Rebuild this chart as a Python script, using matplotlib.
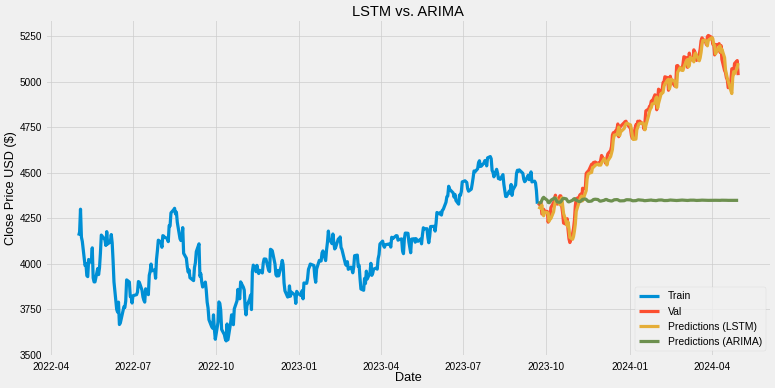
import matplotlib
matplotlib.use("Agg")
import matplotlib.pyplot as plt
import matplotlib.dates as mdates
import pandas as pd
import numpy as np

# ---------------- data ----------------
train_start = "2022-05-02"
train_end = "2023-09-21"
val_start = "2023-09-22"
val_end = "2024-04-30"
holidays = ["2022-05-30", "2022-06-20", "2022-07-04", "2022-09-05", "2022-11-24", "2022-12-26",
            "2023-01-02", "2023-01-16", "2023-02-20", "2023-04-07", "2023-05-29", "2023-06-19",
            "2023-07-04", "2023-09-04", "2023-11-23", "2023-12-25",
            "2024-01-01", "2024-01-15", "2024-02-19", "2024-03-29"]

train_close = [
    # 2022-05
    4155, 4175, 4300, 4147, 4123, 3991, 4001, 3935, 3930, 4024, 4008, 4088, 3923, 3901, 3901,
    3974, 3941, 3979, 4058, 4158, 4132,
    # 2022-06
    4101, 4177, 4109, 4121, 4161, 4116, 4018, 3901, 3750, 3735, 3790, 3667, 3675, 3765, 3760,
    3796, 3912, 3900, 3821, 3819, 3785,
    # 2022-07
    3825, 3831, 3845, 3903, 3899, 3855, 3819, 3801, 3790, 3863, 3831, 3937, 3959, 3999, 3962,
    3967, 3921, 4024, 4072, 4130,
    # 2022-08
    4119, 4091, 4155, 4152, 4145, 4140, 4122, 4210, 4208, 4280, 4297, 4305, 4274, 4284, 4228,
    4138, 4128, 4141, 4199, 4058, 4031, 3986, 3955,
    # 2022-09
    3967, 3924, 3908, 3980, 4006, 4067, 4110, 3932, 3946, 3901, 3873, 3900, 3856, 3790, 3758,
    3693, 3655, 3647, 3720, 3640, 3586,
    # 2022-10
    3679, 3791, 3783, 3745, 3640, 3612, 3589, 3577, 3670, 3583, 3678, 3720, 3696, 3666, 3753,
    3797, 3860, 3831, 3808, 3901, 3872,
    # 2022-11
    3856, 3760, 3720, 3771, 3807, 3828, 3749, 3957, 3993, 3957, 3992, 3959, 3947, 3965, 3950,
    4004, 4027, 4026, 3964, 3958, 4080,
    # 2022-12
    4077, 4072, 3999, 3941, 3933, 3964, 3934, 3991, 4019, 3995, 3896, 3852, 3818, 3821, 3879,
    3822, 3845, 3829, 3783, 3849, 3840,
    # 2023-01
    3825, 3853, 3808, 3895, 3893, 3919, 3970, 3983, 3999, 3991, 3929, 3899, 3972, 4019, 4017,
    4016, 4060, 4071, 4018, 4077,
    # 2023-02
    4119, 4180, 4136, 4111, 4164, 4118, 4082, 4090, 4137, 4136, 4148, 4090, 4079, 3997, 3991,
    4012, 3970, 3982, 3970,
    # 2023-03
    3951, 3981, 4045, 4048, 3986, 3992, 3919, 3862, 3855, 3920, 3892, 3960, 3917, 3951, 4003,
    3937, 3948, 3971, 3977, 3971, 4028, 4051, 4109,
    # 2023-04
    4125, 4100, 4091, 4105, 4109, 4108, 4092, 4146, 4138, 4151, 4155, 4154, 4130, 4133, 4137,
    4072, 4056, 4136, 4169,
    # 2023-05
    4168, 4120, 4091, 4061, 4136, 4138, 4119, 4138, 4130, 4124, 4136, 4110, 4159, 4198, 4192,
    4193, 4146, 4116, 4151, 4205, 4206, 4180,
    # 2023-06
    4221, 4282, 4274, 4283, 4268, 4294, 4299, 4338, 4369, 4373, 4426, 4410, 4389, 4366, 4381,
    4348, 4328, 4378, 4376, 4397, 4450,
    # 2023-07
    4456, 4447, 4412, 4399, 4410, 4439, 4472, 4510, 4505, 4522, 4555, 4566, 4535, 4536, 4554,
    4567, 4566, 4538, 4582, 4589,
    # 2023-08
    4577, 4513, 4502, 4478, 4519, 4499, 4468, 4469, 4464, 4490, 4437, 4404, 4370, 4370, 4400,
    4388, 4436, 4376, 4406, 4433, 4497, 4514, 4508,
    # 2023-09
    4516, 4497, 4465, 4451, 4457, 4487, 4462, 4468, 4505, 4450, 4454, 4444, 4402, 4330,
]

val_close = [
    4320, 4337, 4274, 4274, 4300, 4288,
    4288, 4229, 4263, 4258, 4309, 4336, 4358, 4377, 4350, 4328, 4374, 4373, 4315, 4278, 4224,
    4217, 4248, 4186, 4137, 4117, 4167, 4194,
    4238, 4318, 4358, 4365, 4378, 4383, 4347, 4415, 4411, 4496, 4503, 4508, 4514, 4547, 4538,
    4556, 4559, 4550, 4554, 4551, 4568,
    4595, 4569, 4567, 4549, 4585, 4604, 4622, 4644, 4707, 4720, 4719, 4740, 4768, 4698, 4746,
    4755, 4775, 4781, 4783, 4770,
    4743, 4705, 4689, 4697, 4764, 4757, 4783, 4780, 4784, 4766, 4739, 4780, 4840, 4850, 4865,
    4869, 4894, 4891, 4928, 4925, 4846,
    4906, 4959, 4943, 4954, 4995, 4998, 5027, 5022, 4953, 5001, 5030, 5006, 4976, 4982, 5087,
    5089, 5069, 5078, 5070, 5096,
    5137, 5131, 5079, 5105, 5157, 5124, 5117, 5175, 5165, 5150, 5117, 5149, 5179, 5224, 5241,
    5234, 5218, 5203, 5248, 5254,
    5243, 5205, 5211, 5147, 5204, 5202, 5209, 5161, 5199, 5123, 5061, 5051, 5022, 5011, 4967,
    5010, 5071, 5072, 5048, 5100, 5116, 5036,
]

lstm_pred = [
    4312, 4305, 4323, 4280, 4264, 4284,
    4281, 4278, 4234, 4245, 4249, 4286, 4319, 4343, 4362, 4347, 4324, 4353, 4363, 4320, 4277,
    4228, 4209, 4230, 4192, 4145, 4135, 4150,
    4180, 4218, 4288, 4338, 4353, 4365, 4372, 4346, 4388, 4402, 4465, 4491, 4497, 4502, 4529,
    4530, 4541, 4548, 4542, 4543, 4542,
    4554, 4578, 4565, 4557, 4543, 4566, 4589, 4607, 4628, 4681, 4707, 4709, 4725, 4751, 4705,
    4724, 4743, 4760, 4769, 4772,
    4763, 4740, 4704, 4683, 4685, 4737, 4749, 4766, 4771, 4773, 4760, 4736, 4760, 4815, 4837,
    4851, 4858, 4878, 4882, 4909, 4916,
    4856, 4881, 4936, 4937, 4941, 4975, 4987, 5010, 5013, 4960, 4979, 5013, 5002, 4973, 4970,
    5051, 5078, 5064, 5066, 5062,
    5079, 5117, 5122, 5082, 5088, 5134, 5122, 5109, 5150, 5157, 5144, 5115, 5131, 5161, 5203,
    5227, 5226, 5212, 5197, 5227,
    5242, 5236, 5204, 5199, 5153, 5180, 5192, 5197, 5163, 5179, 5132, 5066, 5043, 5019, 5004,
    4950, 4935, 5020, 5055, 5044, 5077, 5102,
]

arima_pred = [
    4332.7, 4337.5, 4349.0, 4360.5, 4365.3, 4360.5, 4349.0, 4337.5,
    4335.7, 4339.6, 4349.0, 4358.4, 4362.3, 4358.4, 4349.0, 4339.6,
    4338.1, 4341.3, 4349.0, 4356.7, 4359.9, 4356.7, 4349.0, 4341.3,
    4340.1, 4342.7, 4349.0, 4355.3, 4357.9, 4355.3, 4349.0, 4342.7,
    4341.8, 4343.9, 4349.0, 4354.1, 4356.2, 4354.1, 4349.0, 4343.9,
    4343.1, 4344.8, 4349.0, 4353.2, 4354.9, 4353.2, 4349.0, 4344.8,
    4344.2, 4345.6, 4349.0, 4352.4, 4353.8, 4352.4, 4349.0, 4345.6,
    4345.1, 4346.2, 4349.0, 4351.8, 4352.9, 4351.8, 4349.0, 4346.2,
    4345.8, 4346.7, 4349.0, 4351.3, 4352.2, 4351.3, 4349.0, 4346.7,
    4346.4, 4347.2, 4349.0, 4350.8, 4351.6, 4350.8, 4349.0, 4347.2,
    4346.9, 4347.5, 4349.0, 4350.5, 4351.1, 4350.5, 4349.0, 4347.5,
    4347.3, 4347.8, 4349.0, 4350.2, 4350.7, 4350.2, 4349.0, 4347.8,
    4347.6, 4348.0, 4349.0, 4350.0, 4350.4, 4350.0, 4349.0, 4348.0,
    4347.8, 4348.2, 4349.0, 4349.8, 4350.2, 4349.8, 4349.0, 4348.2,
    4348.1, 4348.3, 4349.0, 4349.7, 4349.9, 4349.7, 4349.0, 4348.3,
    4348.2, 4348.4, 4349.0, 4349.6, 4349.8, 4349.6, 4349.0, 4348.4,
    4348.4, 4348.6, 4349.0, 4349.4, 4349.6, 4349.4, 4349.0, 4348.6,
    4348.5, 4348.6, 4349.0, 4349.4, 4349.5, 4349.4, 4349.0, 4348.6,
    4348.6, 4348.7, 4349.0, 4349.3, 4349.4, 4349.3, 4349.0, 4348.7,
]

legend_labels = ["Train", "Val", "Predictions (LSTM)", "Predictions (ARIMA)"]

# ---------------- dates ----------------
bday = pd.offsets.CustomBusinessDay(holidays=holidays)
train_dates = pd.date_range(train_start, train_end, freq=bday)
val_dates = pd.date_range(val_start, val_end, freq=bday)
assert len(train_dates) == len(train_close), (len(train_dates), len(train_close))
assert len(val_dates) == len(val_close) == len(lstm_pred) == len(arima_pred), (
    len(val_dates), len(val_close), len(lstm_pred), len(arima_pred))

# ---------------- plot ----------------
plt.style.use("fivethirtyeight")
plt.rcParams["font.family"] = ["Liberation Sans", "DejaVu Sans"]

DPI = 48
fig = plt.figure(figsize=(775 / DPI, 388 / DPI), dpi=DPI)
ax = fig.add_axes([0.059, 0.082, 0.936, 0.866])

LW = 4.8
ax.plot(train_dates, train_close, lw=LW)
ax.plot(val_dates, val_close, lw=LW)
ax.plot(val_dates, lstm_pred, lw=LW)
ax.plot(val_dates, arima_pred, lw=LW)

ax.set_title("LSTM vs. ARIMA", fontsize=22)
ax.set_xlabel("Date", fontsize=19, labelpad=1)
ax.set_ylabel("Close Price USD ($)", fontsize=19, labelpad=4)
ax.xaxis.set_major_locator(mdates.MonthLocator(bymonth=[1, 4, 7, 10]))
ax.xaxis.set_major_formatter(mdates.DateFormatter("%Y-%m"))
ax.set_yticks(np.arange(3500, 5251, 250))
ax.tick_params(labelsize=15)
ax.tick_params(axis="x", pad=8)
ax.tick_params(axis="y", pad=5)
ax.legend(legend_labels, loc="lower right", fontsize=15.5)

fig.savefig("out.png", dpi=DPI, facecolor=fig.get_facecolor())
